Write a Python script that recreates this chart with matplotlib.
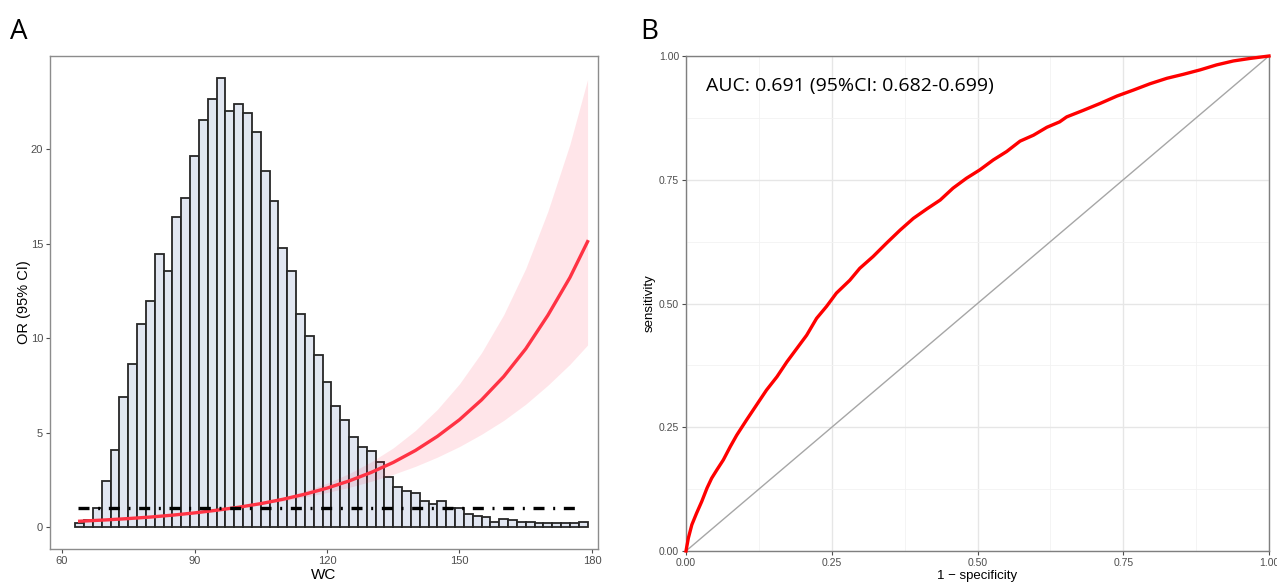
import numpy as np
import matplotlib.pyplot as plt

plt.rcParams['font.family'] = ['Liberation Sans Narrow', 'Liberation Sans', 'DejaVu Sans']

# --- панель A: гистограмма WC (шкалирована к оси OR) и кривая OR с 95% ДИ
bin_edges = np.arange(63, 181, 2)  # 58 столбцов по 2 см
hist_heights = [0.21, 0.35, 1.0, 2.43, 4.09, 6.88, 8.61, 10.72, 11.94, 14.44,
                13.56, 16.38, 17.41, 19.65, 21.53, 22.63, 23.76, 22.01, 22.40, 21.92,
                20.88, 18.82, 17.23, 14.76, 13.53, 11.25, 10.12, 9.08, 7.65, 6.42,
                5.66, 4.76, 4.23, 4.04, 3.44, 2.65, 2.12, 1.89, 1.78, 1.38,
                1.23, 1.36, 1.0, 1.0, 0.67, 0.56, 0.51, 0.26, 0.44, 0.39,
                0.25, 0.26, 0.19, 0.21, 0.23, 0.19, 0.23, 0.28]

wc = [64, 70, 75, 80, 85, 90, 95, 100, 105, 110, 115, 120, 125, 130,
      135, 140, 145, 150, 155, 160, 165, 170, 175, 179]
or_fit = [0.31, 0.38, 0.45, 0.53, 0.63, 0.75, 0.89, 1.05, 1.24, 1.47, 1.74, 2.06, 2.44, 2.89,
          3.42, 4.05, 4.80, 5.68, 6.73, 7.96, 9.43, 11.2, 13.2, 15.1]
or_lower = [0.26, 0.32, 0.39, 0.48, 0.58, 0.72, 0.87, 1.04, 1.20, 1.38, 1.59, 1.83, 2.10, 2.42,
            2.79, 3.21, 3.70, 4.26, 4.91, 5.64, 6.50, 7.50, 8.61, 9.63]
or_upper = [0.37, 0.45, 0.51, 0.59, 0.68, 0.79, 0.91, 1.06, 1.29, 1.57, 1.91, 2.32, 2.83, 3.45,
            4.19, 5.11, 6.23, 7.58, 9.23, 11.23, 13.68, 16.7, 20.25, 23.68]
ref_line = (63.6, 177.6)  # горизонтальная линия OR = 1

# --- панель B: ROC-кривая
fpr = [0, 0.004, 0.010, 0.018, 0.027, 0.036, 0.044, 0.053, 0.064, 0.076, 0.087, 0.104,
       0.121, 0.138, 0.156, 0.173, 0.190, 0.207, 0.224, 0.241, 0.258, 0.281, 0.298, 0.321,
       0.344, 0.367, 0.390, 0.413, 0.436, 0.458, 0.481, 0.504, 0.527, 0.550, 0.573, 0.596,
       0.619, 0.641, 0.653, 0.681, 0.710, 0.739, 0.767, 0.796, 0.825, 0.853, 0.882, 0.910,
       0.939, 0.967, 1.0]
tpr = [0, 0.026, 0.053, 0.076, 0.100, 0.127, 0.147, 0.164, 0.184, 0.211, 0.234, 0.265,
       0.295, 0.325, 0.352, 0.382, 0.409, 0.436, 0.470, 0.494, 0.521, 0.547, 0.571, 0.595,
       0.622, 0.648, 0.672, 0.691, 0.709, 0.733, 0.753, 0.770, 0.790, 0.807, 0.828, 0.840,
       0.856, 0.867, 0.877, 0.890, 0.904, 0.919, 0.931, 0.944, 0.955, 0.963, 0.972, 0.982,
       0.990, 0.995, 1.0]
auc_text = 'AUC: 0.691 (95%CI: 0.682-0.699)'

W, H = 1277, 582
fig = plt.figure(figsize=(W / 100, H / 100), dpi=100)

def px_axes(x0, y0, x1, y1):
    return fig.add_axes([x0 / W, 1 - y1 / H, (x1 - x0) / W, (y1 - y0) / H])

tick_col = '#4d4d4d'

# ---------- A
ax = px_axes(50, 56, 598, 549)
ax.bar(bin_edges[:-1], hist_heights, width=2, align='edge', color='#e1e6f1',
       edgecolor='#262626', linewidth=1.3, zorder=1)
ax.fill_between(wc, or_lower, or_upper, color='#ff1a3c', alpha=0.11, linewidth=0, zorder=2)
ax.plot(wc, or_fit, color='#ff3344', linewidth=2.4, zorder=3)
ax.plot(ref_line, [1, 1], color='black', linewidth=2.4,
        linestyle=(0, (3.3, 2.6, 0.6, 2.6)), dash_capstyle='butt', zorder=4)
ax.set_xlim(57.28, 181.36)
ax.set_ylim(-1.16, 24.92)
ax.set_xticks([60, 90, 120, 150, 180])
ax.set_yticks([0, 5, 10, 15, 20])
ax.tick_params(colors=tick_col, labelsize=8, length=3, width=0.8, pad=2)
for s in ax.spines.values():
    s.set_color('#8c8c8c')
    s.set_linewidth(1.0)
ax.set_xlabel('WC', fontsize=11, va='center')
ax.xaxis.set_label_coords(0.5, -(575 - 549) / 493)
ax.set_ylabel('OR (95% CI)', fontsize=10.5, va='center')
ax.yaxis.set_label_coords(-(50 - 24) / 548, 0.5)

# ---------- B
bx = px_axes(686, 56, 1269, 551)
bx.set_xlim(0, 1)
bx.set_ylim(0, 1)
bx.set_xticks([0, 0.25, 0.5, 0.75, 1.0])
bx.set_yticks([0, 0.25, 0.5, 0.75, 1.0])
bx.set_xticks([0.125, 0.375, 0.625, 0.875], minor=True)
bx.set_yticks([0.125, 0.375, 0.625, 0.875], minor=True)
bx.set_xticklabels(['0.00', '0.25', '0.50', '0.75', '1.00'])
bx.set_yticklabels(['0.00', '0.25', '0.50', '0.75', '1.00'])
bx.grid(True, which='major', color='#e6e6e6', linewidth=1.0)
bx.grid(True, which='minor', color='#f2f2f2', linewidth=0.6)
bx.set_axisbelow(True)
bx.plot([0, 1], [0, 1], color='#a6a6a6', linewidth=1.0, zorder=2)
bx.plot(fpr, tpr, color='#ff0000', linewidth=2.4, zorder=3, clip_on=False)
bx.text(0.035, 0.94, auc_text, fontsize=14, family=['Open Sans', 'DejaVu Sans'],
        transform=bx.transAxes, va='center', ha='left')
bx.tick_params(which='major', colors=tick_col, labelsize=7.5, length=3, width=0.8, pad=2)
bx.tick_params(which='minor', length=0)
for name, s in bx.spines.items():
    s.set_color('#7f7f7f')
    s.set_linewidth(1.0)
bx.set_xlabel('1 \u2212 specificity', fontsize=9.5, va='center')
bx.xaxis.set_label_coords(0.5, -(576 - 551) / 495)
bx.set_ylabel('sensitivity', fontsize=9.5, va='center')
bx.yaxis.set_label_coords(-(686 - 650) / 583, 0.5)

fig.text(10 / W, 1 - 32 / H, 'A', fontsize=20, va='center', ha='left',
         family=['Open Sans', 'DejaVu Sans'])
fig.text(640 / W, 1 - 32 / H, 'B', fontsize=20, va='center', ha='left',
         family=['Open Sans', 'DejaVu Sans'])

fig.savefig('out.png', dpi=100)
